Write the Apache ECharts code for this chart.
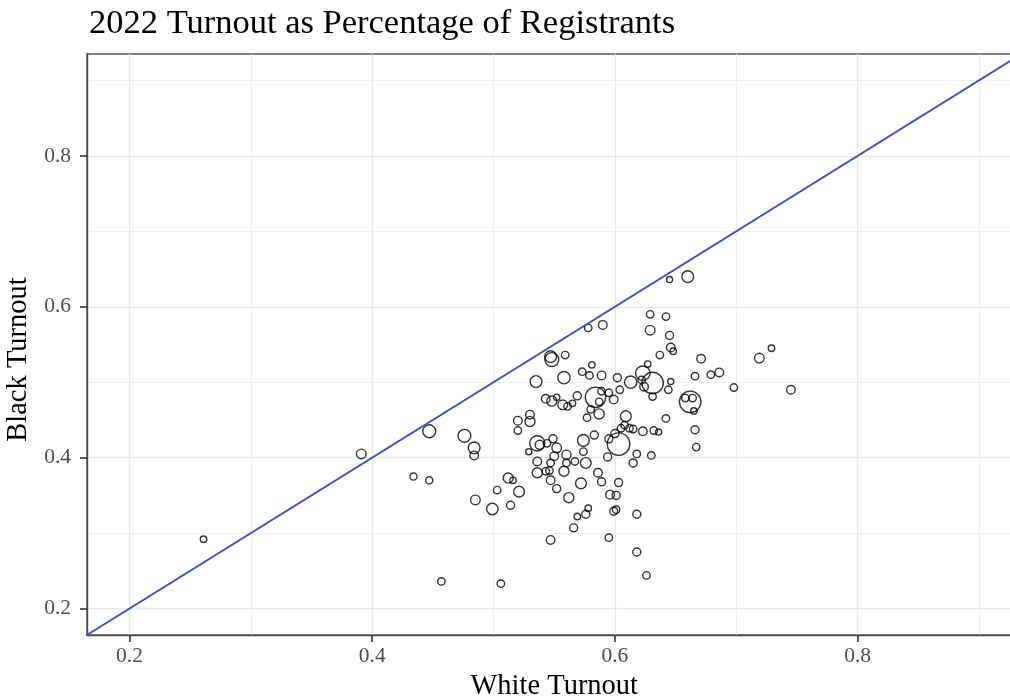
<!DOCTYPE html>
<html>
<head>
<meta charset="utf-8">
<script src="https://cdn.jsdelivr.net/npm/echarts@6/dist/echarts.min.js"></script>
<style>
html,body{margin:0;padding:0;background:#fff;overflow:hidden;}
#chart{width:1010px;height:696px;}
</style>
</head>
<body>
<div id="chart"></div>
<script>
// White turnout (x), Black turnout (y), registrants weight (bubble size)
const whiteTurnout = [
0.261,0.391,0.434,0.447,0.447,0.457,0.476,0.484,0.484,0.485,
0.499,0.503,0.506,0.514,0.521,0.512,0.516,0.529,0.520,0.520,
0.530,0.530,0.535,0.536,0.538,0.544,0.549,0.552,0.536,0.536,
0.543,0.547,0.550,0.547,0.546,0.552,0.558,0.560,0.560,0.562,
0.567,0.574,0.574,0.576,0.572,0.583,0.586,0.589,0.594,0.596,
0.601,0.603,0.603,0.599,0.601,0.576,0.578,0.569,0.566,0.547,
0.595,0.618,0.618,0.626,0.615,0.618,0.630,0.667,
0.660,0.645,0.629,0.642,0.629,0.645,0.646,0.648,0.637,0.671,
0.719,0.729,0.666,0.679,0.686,0.698,0.745,0.578,0.590,0.547,
0.548,0.559,0.558,0.581,0.573,0.579,0.589,0.602,0.613,0.623,
0.627,0.631,0.624,0.622,0.631,0.646,0.644,0.662,0.658,0.664,
0.665,0.666,0.642,0.632,0.636,0.623,0.609,0.608,0.605,0.612,
0.615,0.600,0.595,0.584,0.589,0.595,0.604,0.599,0.587,0.569,
0.543,0.548,0.552,0.557,0.561,0.565,0.580,0.587,0.577
];
const blackTurnout = [
0.292,0.405,0.375,0.370,0.435,0.236,0.429,0.413,0.403,0.344,
0.332,0.357,0.233,0.337,0.355,0.373,0.370,0.408,0.436,0.449,
0.457,0.448,0.501,0.419,0.417,0.419,0.425,0.413,0.395,0.380,
0.382,0.393,0.402,0.370,0.383,0.359,0.382,0.404,0.393,0.347,
0.395,0.423,0.408,0.393,0.366,0.430,0.380,0.368,0.401,0.351,
0.350,0.367,0.418,0.329,0.331,0.325,0.333,0.322,0.307,0.291,
0.294,0.325,0.275,0.244,0.393,0.405,0.403,0.414,
0.640,0.636,0.590,0.587,0.569,0.562,0.546,0.541,0.536,0.531,
0.532,0.545,0.508,0.510,0.513,0.493,0.490,0.572,0.576,0.534,
0.530,0.536,0.506,0.523,0.514,0.509,0.509,0.506,0.500,0.512,
0.524,0.499,0.494,0.503,0.481,0.501,0.490,0.474,0.479,0.479,
0.462,0.437,0.452,0.436,0.434,0.435,0.455,0.443,0.439,0.439,
0.438,0.432,0.425,0.480,0.488,0.486,0.490,0.477,0.474,0.482,
0.478,0.475,0.480,0.470,0.468,0.472,0.464,0.458,0.453
];
const registrants = [
9,20,11,11,36,12,36,30,16,20,
28,12,12,14,25,22,9,8,12,16,
16,22,30,50,18,12,14,20,16,22,
12,12,16,16,12,14,22,18,12,22,
12,30,12,25,25,14,16,14,14,16,
14,14,110,14,12,14,9,9,14,16,
12,14,14,12,14,12,12,12,
30,8,12,12,20,14,16,9,12,16,
20,9,12,12,16,12,16,12,16,30,
42,12,33,9,12,12,16,14,33,45,
9,100,16,12,12,8,12,100,12,12,
9,14,12,12,8,16,25,12,12,12,
12,14,14,90,12,12,12,16,12,14,
16,22,9,20,12,9,12,22,12
];
const referenceLine = [0.1, 1.0];   // y = x
const tickValues = [0.2, 0.4, 0.6, 0.8];
const axisMin = 0.165, axisMax = 0.935;

const points = whiteTurnout.map((x, i) => [x, blackTurnout[i], registrants[i]]);

const chart = echarts.init(document.getElementById('chart'), null, {renderer: 'canvas'});
const serif = '"Liberation Serif", "DejaVu Serif", serif';

function axisCommon(name) {
  return {
    type: 'value',
    min: axisMin,
    max: axisMax,
    splitNumber: 4,
    name: name,
    nameLocation: 'middle',
    nameTextStyle: {fontFamily: serif, fontSize: 28.5, color: '#000'},
    axisLine: {show: true, lineStyle: {color: '#4d4d4d', width: 1.4}},
    axisTick: {show: true, length: 7, customValues: tickValues, lineStyle: {color: '#333', width: 1.6}},
    axisLabel: {customValues: tickValues, fontFamily: serif, fontSize: 21.5, color: '#4D4D4D',
      formatter: v => String(Math.round(v * 10) / 10)},
    splitLine: {show: true, lineStyle: {color: '#E6E9EC', width: 1.4}},
    minorTick: {show: false, splitNumber: 2},
    minorSplitLine: {show: true, lineStyle: {color: '#EDEFF1', width: 1}}
  };
}

const xAx = axisCommon('White Turnout');
xAx.nameGap = 28;
xAx.axisLabel.margin = 10;
const yAx = axisCommon('Black Turnout');
yAx.nameGap = 48;
yAx.axisLabel.margin = 16;
yAx.nameTextStyle.padding = [0, 30, 0, 0];

chart.setOption({
  animation: false,
  backgroundColor: '#fff',
  title: {
    text: '2022 Turnout as Percentage of Registrants',
    left: 84, top: 1,
    textStyle: {fontFamily: serif, fontSize: 34.5, fontWeight: 'normal', color: '#000'}
  },
  grid: {left: 87, right: -11.5, top: 54, bottom: 61, containLabel: false,
    outerBoundsMode: 'none',
    show: true, borderColor: '#555', borderWidth: 1.4, backgroundColor: 'transparent'},
  xAxis: xAx,
  yAxis: yAx,
  series: [
    {
      type: 'scatter',
      data: points,
      symbol: 'circle',
      symbolSize: v => Math.sqrt(v[2]) * 2.15,
      itemStyle: {color: 'rgba(0,0,0,0)', borderColor: '#000', borderWidth: 1.4},
      z: 3
    },
    {
      type: 'line',
      data: referenceLine.map(v => [v, v]),
      symbol: 'none',
      clip: true,
      lineStyle: {color: '#4152B4', width: 1.8},
      z: 4
    }
  ]
});
</script>
</body>
</html>
